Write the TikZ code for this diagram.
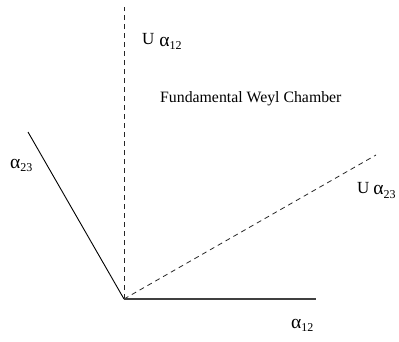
\documentclass[tikz,border=0pt]{standalone}
\usepackage{fontspec}
\setmainfont{Liberation Serif}
\newcommand{\alab}[1]{\raisebox{-1.5pt}{\fontsize{19.5}{19.5}\selectfont α}\raisebox{-5pt}{\fontsize{12}{12}\selectfont #1}}
\begin{document}
\begin{tikzpicture}[x=1pt,y=-1pt,
  dashline/.style={draw=black!85,line width=0.8pt,dash pattern=on 5pt off 4pt},
  solidline/.style={draw=black,line width=0.9pt},
  baseline/.style={draw=black!75,line width=1.6pt},
  lab/.style={inner sep=0pt,anchor=base west,font=\fontsize{17}{17}\selectfont}]
\useasboundingbox (0,0) rectangle (399,341);
\coordinate (O) at (124,299);
\coordinate (vtop) at (124,7);
\coordinate (a23end) at (28,132);
\coordinate (u23end) at (376,155);
\coordinate (a12end) at (316,299);
\draw[dashline] (O) -- (vtop);
\draw[dashline] (O) -- (u23end);
\draw[solidline] (O) -- (a23end);
\draw[baseline] (O) -- (a12end);
\node[lab] (u12) at (142,44.5) {U\hspace{5pt}\alab{12}};
\node[lab,font=\fontsize{15.8}{16}\selectfont] (fwc) at (160,102) {Fundamental Weyl Chamber};
\node[lab] (a23) at (10,166.5) {\alab{23}};
\node[lab] (u23) at (357,193) {U\hspace{4pt}\alab{23}};
\node[lab] (a12) at (291,326.5) {\alab{12}};
\end{tikzpicture}
\end{document}
